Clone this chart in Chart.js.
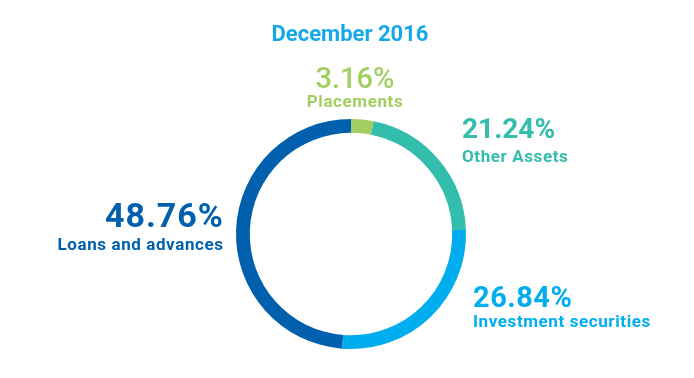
<!DOCTYPE html>
<html>
<head>
<meta charset="utf-8">
<script src="https://cdn.jsdelivr.net/npm/chart.js"></script>
<style>
  html, body { margin: 0; padding: 0; background: #fff; }
  #wrap { width: 694px; height: 378px; position: relative; }
</style>
</head>
<body>
<div id="wrap"><canvas id="pie"></canvas></div>
<script>
const title = 'December 2016';
const categories = ['Placements', 'Other Assets', 'Investment securities', 'Loans and advances'];
const shares = [3.16, 21.24, 26.84, 48.76];
const colors = ['#a3cf62', '#33bdad', '#00aeef', '#0060ad'];

// where each label sits (x, baseline of value, baseline of name, alignment, value font)
const labelSpots = [
  { x: 355, y1: 88, y2: 107, align: 'center', size: 29, weight: '500', sp: 0 },
  { x: 462, y1: 138, y2: 162, align: 'left', size: 28, weight: 'bold', sp: 0 },
  { x: 473, y1: 307, y2: 327, align: 'left', size: 29, weight: 'bold', sp: 0.5 },
  { x: 223, y1: 227, y2: 250, align: 'right', size: 34, weight: 'bold', sp: 1 }
];

const textPlugin = {
  id: 'texts',
  afterDraw(chart) {
    const c = chart.ctx;
    c.save();
    c.textBaseline = 'alphabetic';
    c.fillStyle = '#16a9e8';
    c.textAlign = 'center';
    c.font = 'bold 22px Roboto';
    c.fillText(title, 350, 41);
    categories.forEach((name, i) => {
      const s = labelSpots[i];
      const shift = s.align === 'right' ? 1 : 0;
      c.fillStyle = colors[i];
      c.textAlign = s.align;
      c.font = s.weight + ' ' + s.size + 'px Roboto';
      c.letterSpacing = s.sp + 'px';
      c.fillText(shares[i].toFixed(2) + '%', s.x + shift * s.sp, s.y1);
      c.font = 'bold 17px Roboto';
      c.letterSpacing = '0.6px';
      c.fillText(name, s.x + shift * 0.6, s.y2);
    });
    c.restore();
  }
};

new Chart(document.getElementById('pie'), {
  type: 'doughnut',
  data: {
    labels: categories,
    datasets: [{
      data: shares,
      backgroundColor: colors,
      borderWidth: 0
    }]
  },
  options: {
    responsive: true,
    maintainAspectRatio: false,
    animation: false,
    cutout: '88%',
    events: [],
    layout: { padding: { top: 119, bottom: 29, left: 236, right: 228 } },
    plugins: {
      legend: { display: false },
      tooltip: { enabled: false },
      title: { display: false }
    }
  },
  plugins: [textPlugin]
});
</script>
</body>
</html>
